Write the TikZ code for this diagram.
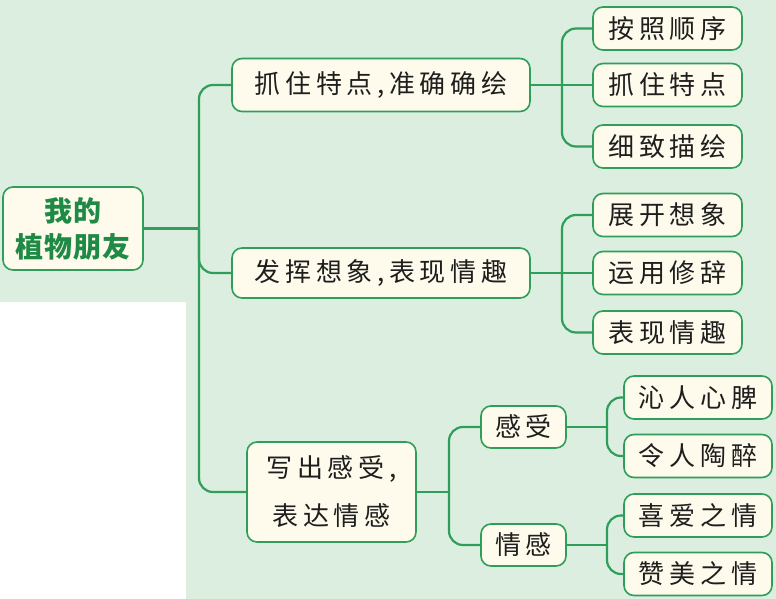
\documentclass[tikz,border=0pt]{standalone}
\usepackage{fontspec}
\newfontfamily\cjk[LetterSpace=18]{Noto Sans CJK SC}
\newfontfamily\cjkroot[LetterSpace=3]{Noto Sans CJK SC}
\definecolor{bg}{HTML}{DCEEDF}
\definecolor{lineg}{HTML}{2E9E5B}
\definecolor{cream}{HTML}{FEFBEC}
\definecolor{ink}{HTML}{1E1E1E}
\definecolor{rootg}{HTML}{1E8A45}
\begin{document}
\begin{tikzpicture}[x=1pt,y=-1pt,
  box/.style={draw=lineg, line width=1.6pt, fill=cream, rounded corners=10pt, inner sep=0pt, text=ink, font=\cjk\fontsize{26}{30}\selectfont, align=center},
  leaf/.style={box, minimum width=149pt, minimum height=43pt},
  conn/.style={draw=lineg, line width=2.2pt},
  rc/.style={conn, rounded corners=14pt}]
\useasboundingbox (0,0) rectangle (776,599);
\fill[bg] (0,0) rectangle (776,599);
\fill[white] (0,302) rectangle (186,599);

% root
\node[box, minimum width=140pt, minimum height=83pt, text=rootg, font=\cjkroot\bfseries\fontsize{28}{36}\selectfont] (root) at (73,228.5) {我的\\植物朋友};

% level 1
\node[box, minimum width=298pt, minimum height=53pt] (n1) at (381,85) {抓住特点,准确确绘};
\node[box, minimum width=298pt, minimum height=50pt] (n2) at (381,273) {发挥想象,表现情趣};
\node[box, minimum width=169pt, minimum height=100pt, font=\cjk\fontsize{26}{48}\selectfont] (n3) at (331.5,492) {写出感受,\\表达情感};

% group 1
\node[leaf] (g1a) at (667.5,28.5) {按照顺序};
\node[leaf] (g1b) at (667.5,85) {抓住特点};
\node[leaf] (g1c) at (667.5,146.5) {细致描绘};
% group 2
\node[leaf] (g2a) at (667.5,215) {展开想象};
\node[leaf] (g2b) at (667.5,273) {运用修辞};
\node[leaf] (g2c) at (667.5,332.5) {表现情趣};
% group 3
\node[box, minimum width=85pt, minimum height=42pt] (s1) at (523.5,427) {感受};
\node[box, minimum width=85pt, minimum height=42pt] (s2) at (523.5,545) {情感};
\node[leaf, minimum width=148pt] (l1) at (698,397.5) {沁人心脾};
\node[leaf, minimum width=148pt] (l2) at (698,456) {令人陶醉};
\node[leaf, minimum width=148pt] (l3) at (698,515.5) {喜爱之情};
\node[leaf, minimum width=148pt] (l4) at (698,574) {赞美之情};

% junctions
\coordinate (J0) at (199,228.5);
\coordinate (J1) at (562,85);
\coordinate (J2) at (562,273);
\coordinate (J3) at (449,492);
\coordinate (J4) at (607,427);
\coordinate (J5) at (607,545);

% trunk
\draw[conn] (root.east) -- (J0);
\draw[rc] (n1.west) -| (J0);
\draw[rc] (n2.west) -| (J0);
\draw[rc] (n3.west) -| (J0);

% group 1
\draw[conn] (n1.east) -- (g1b.west);
\draw[rc] (g1a.west) -| (J1);
\draw[rc] (g1c.west) -| (J1);
% group 2
\draw[conn] (n2.east) -- (g2b.west);
\draw[rc] (g2a.west) -| (J2);
\draw[rc] (g2c.west) -| (J2);
% group 3
\draw[conn] (n3.east) -- (J3);
\draw[rc] (s1.west) -| (J3);
\draw[rc] (s2.west) -| (J3);
\draw[conn] (s1.east) -- (J4);
\draw[rc] (l1.west) -| (J4);
\draw[rc] (l2.west) -| (J4);
\draw[conn] (s2.east) -- (J5);
\draw[rc] (l3.west) -| (J5);
\draw[rc] (l4.west) -| (J5);
\end{tikzpicture}
\end{document}
